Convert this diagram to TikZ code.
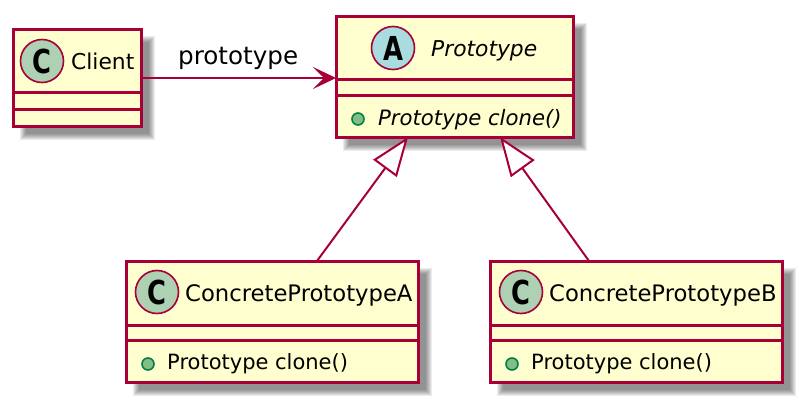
\documentclass[tikz,border=0pt]{standalone}
\usepackage{fontspec}
\setmainfont{DejaVu Sans}
\usetikzlibrary{arrows.meta,calc}
\definecolor{umlline}{HTML}{A80036}
\definecolor{umlfill}{HTML}{FEFECE}
\definecolor{classspot}{HTML}{ADD1B2}
\definecolor{abstractspot}{HTML}{A9DCDF}
\definecolor{plusfill}{HTML}{84BE84}
\definecolor{plusline}{HTML}{038048}
\newcommand{\softshadow}[4]{%
  \foreach \d in {2.5,1.5,0.5,-0.5,-1.5,-2.5,-3.5}{
    \fill[black,opacity=0.075] ({#1+10-\d-1},{#2+10-\d-1}) rectangle ({#3+10+\d+1},{#4+10+\d+1});
  }}
\tikzset{
  x=1pt,y=-1pt,
  classbox/.style={draw=umlline,line width=3pt,fill=umlfill,inner sep=0pt,outer sep=0pt,anchor=north west},
  divider/.style={draw=umlline,line width=3pt},
  spot/.style={circle,draw=umlline,line width=1.6pt,minimum size=43pt,inner sep=0pt,outer sep=0pt},
  cname/.style={anchor=base west,inner sep=0pt,font=\fontsize{21.8}{24}\selectfont},
  lname/.style={anchor=base west,inner sep=0pt,font=\fontsize{22.7}{24}\selectfont},
  aname/.style={anchor=base west,inner sep=0pt,font=\fontsize{21.8}{24}\selectfont\itshape},
  member/.style={anchor=base west,inner sep=0pt,font=\fontsize{21}{24}\selectfont},
  amember/.style={anchor=base west,inner sep=0pt,font=\fontsize{21.2}{24}\selectfont\itshape},
  plusdot/.style={circle,draw=plusline,fill=plusfill,line width=1.6pt,minimum size=12pt,inner sep=0pt},
  letter/.style={font=\fontsize{33}{33}\selectfont\bfseries,text=black,inner sep=0pt,xscale=0.78},
  assoc/.style={draw=umlline,line width=2pt,-{Stealth[length=23pt,width=22pt,inset=11pt,fill=umlline]}},
  generalize/.style={draw=umlline,line width=2pt,-{Triangle[open,length=39pt,width=29pt,fill=white]}},
}
\begin{document}
\begin{tikzpicture}
\useasboundingbox (0,0) rectangle (799,401);
\fill[white] (0,0) rectangle (799,401);
\softshadow{13}{30}{141}{126}
\softshadow{336}{17}{573}{137}
\softshadow{126}{261}{418}{382}
\softshadow{490}{261}{782}{382}
% boxes
\node[classbox,minimum width=128pt,minimum height=96pt] (client) at (13,30) {};
\node[classbox,minimum width=237pt,minimum height=120pt] (proto) at (336,17) {};
\node[classbox,minimum width=292pt,minimum height=121pt] (concA) at (126,261) {};
\node[classbox,minimum width=292pt,minimum height=121pt] (concB) at (490,261) {};
% dividers
\draw[divider] (client.west |- 0,93) -- (client.east |- 0,93);
\draw[divider] (client.west |- 0,109) -- (client.east |- 0,109);
\draw[divider] (proto.west |- 0,80) -- (proto.east |- 0,80);
\draw[divider] (proto.west |- 0,96) -- (proto.east |- 0,96);
\draw[divider] (concA.west |- 0,325) -- (concA.east |- 0,325);
\draw[divider] (concA.west |- 0,340) -- (concA.east |- 0,340);
\draw[divider] (concB.west |- 0,325) -- (concB.east |- 0,325);
\draw[divider] (concB.west |- 0,340) -- (concB.east |- 0,340);
% spots
\node[spot,fill=classspot] (spotClient) at (42,61) {};
\node[letter] (letClient) at (spotClient) {C};
\node[spot,fill=abstractspot] (spotProto) at (393,48) {};
\node[letter] (letProto) at (spotProto) {A};
\node[spot,fill=classspot] (spotA) at (157,292) {};
\node[letter] (letA) at (spotA) {C};
\node[spot,fill=classspot] (spotB) at (521,292) {};
\node[letter] (letB) at (spotB) {C};
% names
\node[cname] (nameClient) at (71,70) {Client};
\node[aname] (nameProto) at (431,57) {Prototype};
\node[lname] (nameA) at (185,301) {ConcretePrototypeA};
\node[lname] (nameB) at (549,301) {ConcretePrototypeB};
% members
\node[plusdot] (dotProto) at (358,119) {};
\node[amember] (memProto) at (378,125) {Prototype clone()};
\node[plusdot] (dotA) at (148,364) {};
\node[member] (memA) at (167,369) {Prototype clone()};
\node[plusdot] (dotB) at (512,364) {};
\node[member] (memB) at (531,369) {Prototype clone()};
% connectors
\draw[assoc] (client.east) -- (proto.west |- client.east);
\node[anchor=base west,inner sep=0pt,font=\fontsize{24.6}{26}\selectfont] (lbl) at (178,65) {prototype};
\draw[generalize] ($(concA.north west)!0.654!(concA.north east)$) -- ($(proto.south west)!0.304!(proto.south east)$);
\draw[generalize] ($(concB.north west)!0.339!(concB.north east)$) -- ($(proto.south west)!0.692!(proto.south east)$);
\end{tikzpicture}
\end{document}
